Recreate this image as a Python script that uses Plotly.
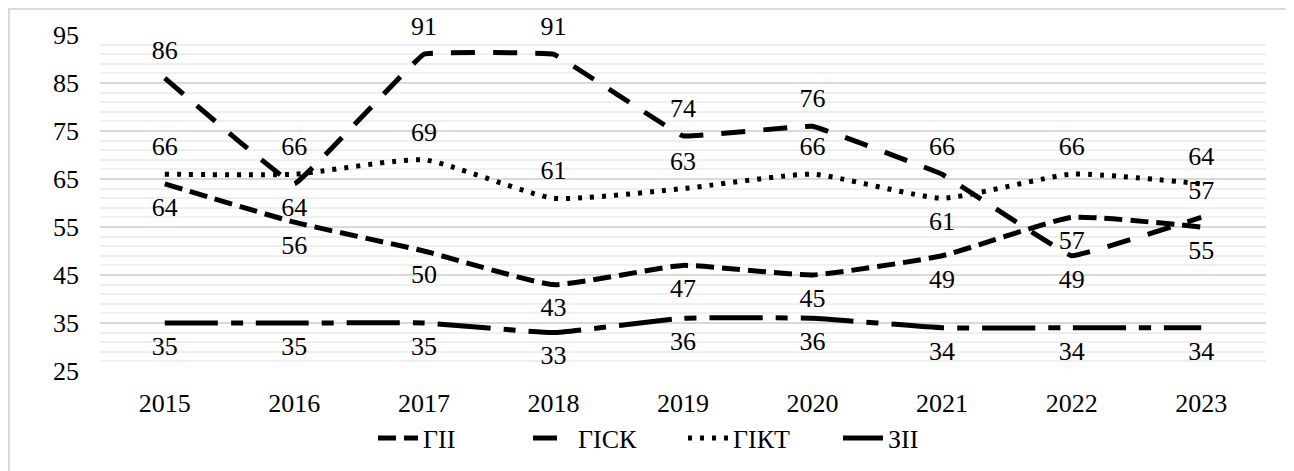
import plotly.graph_objects as go

# dane
years = ["2015", "2016", "2017", "2018", "2019", "2020", "2021", "2022", "2023"]
gii = [64, 56, 50, 43, 47, 45, 49, 57, 55]
gisk = [86, 64, 91, 91, 74, 76, 66, 49, 57]
gikt = [66, 66, 69, 61, 63, 66, 61, 66, 64]
zii = [35, 35, 35, 33, 36, 36, 34, 34, 34]

FONT = "Liberation Serif, Times New Roman, serif"
GRID = "#d9d9d9"
GRID_MINOR = "#efefef"

# pozycje etykiet
up, down = "top center", "bottom center"
pos_gii = [down] * 9
pos_gisk = [up, down, up, up, up, up, up, down, up]
pos_gikt = [up, up, up, up, up, up, down, up, up]
pos_zii = [down] * 9

# nazwa, wartości, kreska, wygładzenie, pozycje etykiet
series = [
    ("ГІІ", gii, "18px,8px", 0.4, pos_gii),
    ("ГІСК", gisk, "24px,18px", 0.15, pos_gisk),
    ("ГІКТ", gikt, "4px,8px", 0.5, pos_gikt),
    ("ЗІІ", zii, "53px,13px,12px,13px", 0.3, pos_zii),
]

fig = go.Figure()
for name, vals, dash, smooth, pos in series:
    fig.add_trace(
        go.Scatter(
            x=years,
            y=vals,
            name=name,
            mode="lines+markers+text",
            text=[str(v) for v in vals],
            textposition=pos,
            textfont=dict(family=FONT, size=26, color="#000000"),
            marker=dict(size=18, color="rgba(0,0,0,0)"),
            line=dict(color="#000000", width=5, dash=dash, shape="spline", smoothing=smooth),
            cliponaxis=False,
        )
    )

# strona ma 8px marginesu body, więc marginesy są przesunięte
fig.update_layout(
    width=1294,
    height=471,
    paper_bgcolor="white",
    plot_bgcolor="white",
    font=dict(family=FONT, size=26, color="#000000"),
    margin=dict(l=92, r=36, t=27, b=108),
    showlegend=True,
    legend=dict(
        orientation="h",
        xref="paper",
        x=0.5,
        xanchor="center",
        yref="paper",
        y=-67 / 336,
        yanchor="middle",
        font=dict(family=FONT, size=26),
        itemwidth=40,
        entrywidth=100,
    ),
    shapes=[
        dict(
            type="rect",
            xref="paper",
            yref="paper",
            x0=-91 / 1166,
            x1=1.2,
            y0=-0.5,
            y1=1 + 26 / 336,
            line=dict(color=GRID, width=2),
            fillcolor="rgba(0,0,0,0)",
            layer="below",
        )
    ],
)

fig.update_xaxes(
    type="category",
    range=[-0.5, 8.5],
    showgrid=False,
    showline=False,
    zeroline=False,
    ticks="",
    automargin=False,
    ticklabelstandoff=14,
    tickfont=dict(family=FONT, size=26),
)
fig.update_yaxes(
    range=[25, 95],
    tick0=25,
    dtick=10,
    showgrid=True,
    gridcolor=GRID,
    gridwidth=2,
    zeroline=False,
    showline=False,
    ticks="",
    automargin=False,
    ticklabelstandoff=20,
    tickfont=dict(family=FONT, size=26),
    minor=dict(dtick=2, tick0=25, showgrid=True, gridcolor=GRID_MINOR, gridwidth=2),
)

fig.write_html("out.html")
